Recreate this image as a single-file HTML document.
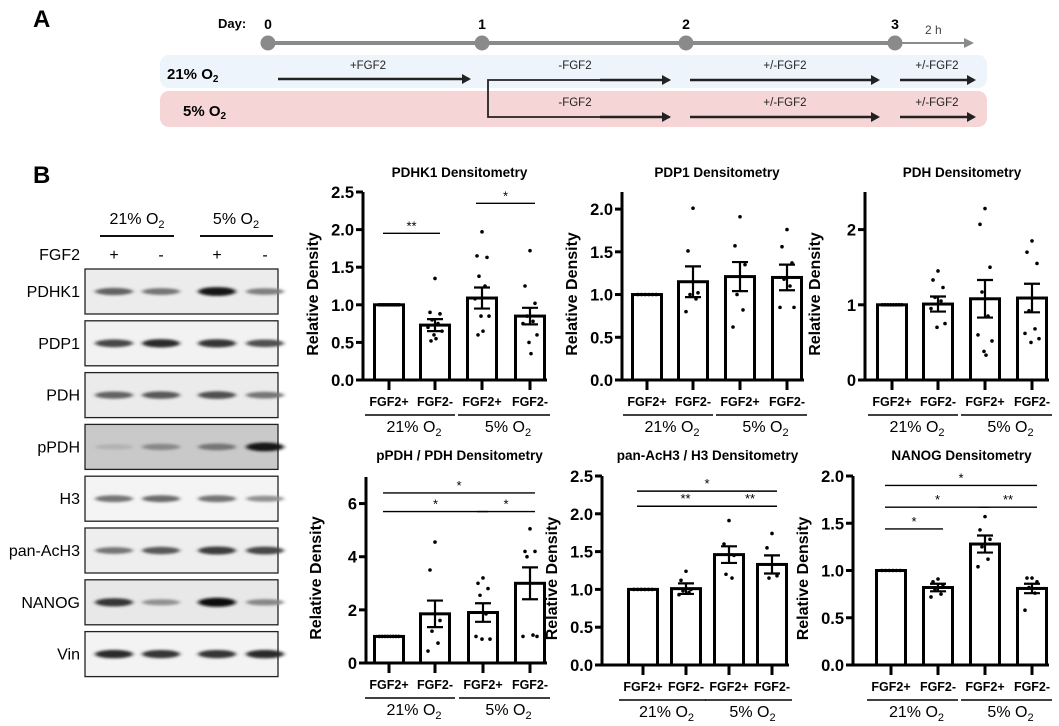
<!DOCTYPE html>
<html><head><meta charset="utf-8">
<style>
html,body{margin:0;padding:0;background:#fff;}
svg{display:block;font-family:"Liberation Sans",Arial,sans-serif;}
</style></head>
<body>
<svg id="fig" width="1059" height="726" viewBox="0 0 1059 726" xmlns="http://www.w3.org/2000/svg">
<defs>
<filter id="blur2" x="-50%" y="-200%" width="200%" height="500%"><feGaussianBlur stdDeviation="2 1.4"/></filter>
<marker id="ah" markerWidth="9" markerHeight="10" refX="7" refY="5" orient="auto" markerUnits="userSpaceOnUse"><path d="M0,0 L9,5 L0,10 z" fill="#222"/></marker>
<marker id="ahg" markerWidth="10" markerHeight="10" refX="8" refY="5" orient="auto" markerUnits="userSpaceOnUse"><path d="M0,0 L10,5 L0,10 z" fill="#8a8a8a"/></marker>
</defs>

<!-- Panel A -->
<text x="33" y="27" font-size="24" font-weight="bold">A</text>
<g>
<text x="218" y="28" font-size="13" font-weight="bold">Day:</text>
<line x1="268" y1="43" x2="895" y2="43" stroke="#8a8a8a" stroke-width="4"/>
<line x1="895" y1="43" x2="972" y2="43" stroke="#8a8a8a" stroke-width="2" marker-end="url(#ahg)"/>
<circle cx="268" cy="43" r="7.5" fill="#8a8a8a"/><circle cx="482" cy="43" r="7.5" fill="#8a8a8a"/>
<circle cx="686" cy="43" r="7.5" fill="#8a8a8a"/><circle cx="895" cy="43" r="7.5" fill="#8a8a8a"/>
<text x="268" y="29" font-size="14" font-weight="bold" text-anchor="middle">0</text>
<text x="482" y="29" font-size="14" font-weight="bold" text-anchor="middle">1</text>
<text x="686" y="29" font-size="14" font-weight="bold" text-anchor="middle">2</text>
<text x="895" y="29" font-size="14" font-weight="bold" text-anchor="middle">3</text>
<text x="925" y="34" font-size="12" fill="#444">2 h</text>
</g>
<rect x="160" y="55" width="827" height="33" rx="9" fill="#eef4fb"/>
<rect x="160" y="91" width="827" height="36" rx="9" fill="#f6d5d6"/>
<text x="167" y="79" font-size="15" font-weight="bold">21% O<tspan font-size="10" dy="3">2</tspan></text>
<text x="183" y="116" font-size="15" font-weight="bold">5% O<tspan font-size="10" dy="3">2</tspan></text>
<g stroke="#222" stroke-width="2.6" fill="none">
<line x1="278" y1="79" x2="469" y2="79" marker-end="url(#ah)"/>
<polyline points="670,80 488,80 488,117 670,117" stroke-width="1.8"/>
<line x1="600" y1="80" x2="669" y2="80" marker-end="url(#ah)"/>
<line x1="600" y1="117" x2="669" y2="117" marker-end="url(#ah)"/>
<line x1="690" y1="80" x2="878" y2="80" marker-end="url(#ah)"/>
<line x1="690" y1="117" x2="878" y2="117" marker-end="url(#ah)"/>
<line x1="900" y1="80" x2="974" y2="80" marker-end="url(#ah)"/>
<line x1="900" y1="117" x2="974" y2="117" marker-end="url(#ah)"/>
</g>
<g font-size="11.5" text-anchor="middle" fill="#222">
<text x="368" y="69">+FGF2</text><text x="575" y="69">-FGF2</text><text x="785" y="69">+/-FGF2</text><text x="937" y="69">+/-FGF2</text>
<text x="575" y="106">-FGF2</text><text x="785" y="106">+/-FGF2</text><text x="937" y="106">+/-FGF2</text>
</g>

<!-- Panel B blots -->
<text x="33" y="183" font-size="24" font-weight="bold">B</text>
<g font-size="16">
<text x="137" y="224" text-anchor="middle">21% O<tspan font-size="11" dy="4">2</tspan></text>
<line x1="100" y1="236" x2="174" y2="236" stroke="#111" stroke-width="2"/>
<text x="236" y="224" text-anchor="middle">5% O<tspan font-size="11" dy="4">2</tspan></text>
<line x1="200" y1="236" x2="273" y2="236" stroke="#111" stroke-width="2"/>
<text x="80" y="260" text-anchor="end">FGF2</text>
<text x="114" y="260" text-anchor="middle">+</text><text x="161" y="260" text-anchor="middle">-</text>
<text x="217" y="260" text-anchor="middle">+</text><text x="265" y="260" text-anchor="middle">-</text>
</g>
<g id="blots"></g>
<g id="charts"></g>
</svg>
<script>
const NS="http://www.w3.org/2000/svg";
function mk(tag,attrs,parent,text){const e=document.createElementNS(NS,tag);for(const k in attrs)e.setAttribute(k,attrs[k]);if(text!==undefined)e.textContent=text;parent.appendChild(e);return e;}

// Blots
const blotNames=["PDHK1","PDP1","PDH","pPDH","H3","pan-AcH3","NANOG","Vin"];
const blotIntensity=[[0.55,0.45,0.95,0.4],[0.7,0.85,0.8,0.65],[0.55,0.6,0.65,0.45],[0.12,0.35,0.45,0.95],[0.45,0.5,0.45,0.3],[0.45,0.6,0.75,0.7],[0.8,0.3,1.0,0.35],[0.85,0.8,0.8,0.85]];
const blotBg=["#ececec","#f2f2f2","#ebebeb","#c9c9c9","#f4f4f4","#eeeeee","#e8e8e8","#f3f3f3"];
const lanes=[114,161,217,265];
const blotG=document.getElementById('blots');
blotNames.forEach((n,i)=>{
  const y=269+i*51.8;
  const g=mk('g',{},blotG);
  
  
  mk('rect',{x:85,y:y,width:193,height:45,fill:blotBg[i],stroke:'#222','stroke-width':1.3},g);
  lanes.forEach((lx,j)=>{
    const v=blotIntensity[i][j];
    const c=Math.round(200-185*v);
    mk('ellipse',{cx:lx,cy:y+22.5,rx:19,ry:2.5+2*v,fill:`rgb(${c},${c},${c})`,filter:'url(#blur2)'},g);
  });
  const t=mk('text',{x:80,y:y+28,'font-size':16,'text-anchor':'end'},g,n);
  
  
});

// Chart data
const categories=["FGF2+","FGF2-","FGF2+","FGF2-"];
const groups=["21% O","5% O"];
const pdhk1Means=[1,0.73,1.09,0.85], pdhk1Sem=[0,0.08,0.14,0.11];
const pdhk1Pts=[[1,1,1,1,1,1,1,1,1,1],[1.35,0.9,0.88,0.8,0.75,0.7,0.65,0.6,0.55,0.52],[1.97,1.65,1.63,1.38,1.25,1.08,0.85,0.85,0.65,0.6],[1.72,1.25,1.02,0.85,0.78,0.75,0.6,0.5,0.35]];
const pdhk1Ticks=["0.0","0.5","1.0","1.5","2.0","2.5"];
const pdhk1Sig=[[0,1,1.95,"**"],[2,3,2.35,"*"]];
const pdp1Means=[1,1.15,1.21,1.2], pdp1Sem=[0,0.18,0.17,0.15];
const pdp1Pts=[[1,1,1,1,1,1],[2.01,1.51,1.02,1.0,0.95,0.8],[1.91,1.57,1.35,1.0,0.82,0.62],[1.76,1.56,1.37,1.18,1.1,0.85,0.85]];
const pdp1Ticks=["0.0","0.5","1.0","1.5","2.0"];
const pdhMeans=[1,1.01,1.08,1.09], pdhSem=[0,0.1,0.25,0.19];
const pdhPts=[[1,1,1,1,1,1,1,1],[1.45,1.33,1.23,1.1,1.05,0.95,0.75,0.7],[2.28,2.07,1.5,1.17,0.85,0.6,0.52,0.38,0.33],[1.85,1.7,1.55,0.92,0.68,0.62,0.55,0.5]];
const pdhTicks=["0","1","2"];
const ppdhMeans=[1,1.85,1.9,3.0], ppdhSem=[0,0.5,0.35,0.6];
const ppdhPts=[[1,1,1,1,1,1,1,1],[4.55,3.5,1.6,1.2,0.75,0.45],[3.2,3.0,2.8,2.55,1.85,1.0,0.9,0.9],[5.05,4.2,4.2,4.0,1.05,1.0,1.0]];
const ppdhTicks=["0","2","4","6"];
const ppdhSig=[[0,2,5.7,"*"],[2,3,5.7,"*"],[0,3,6.4,"*"]];
const acMeans=[1,1.01,1.46,1.33], acSem=[0,0.07,0.11,0.12];
const acPts=[[1,1,1,1,1,1],[1.24,1.12,1.0,0.98,0.96,0.93],[1.91,1.6,1.45,1.2,1.15],[1.74,1.55,1.18,1.15]];
const acTicks=["0.0","0.5","1.0","1.5","2.0","2.5"];
const acSig=[[0,2,2.1,"**"],[2,3,2.1,"**"],[0,3,2.3,"*"]];
const nanogMeans=[1,0.82,1.28,0.81], nanogSem=[0,0.04,0.09,0.05];
const nanogPts=[[1,1,1,1,1,1],[0.91,0.88,0.85,0.8,0.75,0.72],[1.57,1.43,1.33,1.25,1.12,1.04],[0.92,0.92,0.88,0.82,0.76,0.58]];
const nanogTicks=["0.0","0.5","1.0","1.5","2.0"];
const nanogSig=[[0,1,1.44,"*"],[0,2,1.67,"*"],[2,3,1.67,"**"],[0,3,1.9,"*"]];

const charts=[
 {name:"pdhk1",title:"PDHK1 Densitometry",ax:363,y0:380,yTop:192,ymax:2.5,ticks:pdhk1Ticks,means:pdhk1Means,sem:pdhk1Sem,pts:pdhk1Pts,sig:pdhk1Sig,bx:[389,435,482,530],tY:177},
 {name:"pdp1",title:"PDP1 Densitometry",ax:622,y0:380,yTop:192,ymax:2.2,ticks:pdp1Ticks,means:pdp1Means,sem:pdp1Sem,pts:pdp1Pts,sig:[],bx:[647,693,740,787],tY:177},
 {name:"pdh",title:"PDH Densitometry",ax:865,y0:380,yTop:192,ymax:2.5,ticks:pdhTicks,means:pdhMeans,sem:pdhSem,pts:pdhPts,sig:[],bx:[892,938,985,1032],tY:177},
 {name:"ppdh",title:"pPDH / PDH Densitometry",ax:366,y0:663,yTop:477,ymax:7,ticks:ppdhTicks,means:ppdhMeans,sem:ppdhSem,pts:ppdhPts,sig:ppdhSig,bx:[389,435,483,530],tY:460},
 {name:"pan-ach3",title:"pan-AcH3 / H3 Densitometry",ax:602,y0:665,yTop:476,ymax:2.5,ticks:acTicks,means:acMeans,sem:acSem,pts:acPts,sig:acSig,bx:[643,686,729,772],tY:460},
 {name:"nanog",title:"NANOG Densitometry",ax:853,y0:665,yTop:476,ymax:2.0,ticks:nanogTicks,means:nanogMeans,sem:nanogSem,pts:nanogPts,sig:nanogSig,bx:[891,938,985,1032],tY:460}
];
const jit=[0,-5,5,-3,3,-7,7,-1,1,-4,4];
const root=document.getElementById('charts');
charts.forEach(c=>{
  const g=mk('g',{},root);
  
  
  const Y=v=>c.y0-(v/c.ymax)*(c.y0-c.yTop);
  const xEnd=c.bx[3]+17;
  const mid=(c.bx[0]+c.bx[3])/2;
  const t=mk('text',{x:mid,y:c.tY,'font-size':13.5,'font-weight':'bold','text-anchor':'middle'},g,c.title);
  
  
  const yt=mk('text',{x:0,y:0,'font-size':16,'font-weight':'bold','text-anchor':'middle',transform:`translate(${c.ax-45},${(c.y0+c.yTop)/2+8}) rotate(-90)`},g,"Relative Density");
  
  
  c.means.forEach((m,i)=>{
    const b=mk('rect',{x:c.bx[i]-14.5,y:Y(m),width:29,height:c.y0-Y(m),fill:'#fff',stroke:'#000','stroke-width':3},g);
    
    
  });
  c.pts.forEach((arr,i)=>{
    arr.forEach((v,k)=>{
      const d=mk('circle',{cx:c.bx[i]+(i===0?(k-(arr.length-1)/2)*(22/arr.length):jit[k%jit.length]),cy:Y(v),r:1.8,fill:'#000'},g);
      
      
    });
  });
  c.means.forEach((m,i)=>{
    if(c.sem[i]<=0)return;
    const x=c.bx[i];
    const e=mk('path',{d:`M${x},${Y(m-c.sem[i])}V${Y(m+c.sem[i])}M${x-8},${Y(m+c.sem[i])}H${x+8}M${x-8},${Y(m-c.sem[i])}H${x+8}`,stroke:'#000','stroke-width':2.2,fill:'none'},g);
    
    
  });
  mk('line',{x1:c.ax,y1:c.yTop,x2:c.ax,y2:c.y0+1.5,stroke:'#000','stroke-width':3},g);
  mk('line',{x1:c.ax-7,y1:c.y0,x2:xEnd,y2:c.y0,stroke:'#000','stroke-width':3},g);
  c.ticks.forEach((tl,i)=>{
    const v=parseFloat(tl);
    mk('line',{x1:c.ax-7,y1:Y(v),x2:c.ax,y2:Y(v),stroke:'#000','stroke-width':3},g);
    const tt=mk('text',{x:c.ax-9,y:Y(v)+6,'font-size':16.5,'font-weight':'bold','text-anchor':'end'},g,tl);
    
    
  });
  const lb=c.y0+26;
  categories.forEach((cat,i)=>{
    mk('line',{x1:c.bx[i],y1:c.y0,x2:c.bx[i],y2:c.y0+10,stroke:'#000','stroke-width':3},g);
    const ct=mk('text',{x:c.bx[i],y:lb,'font-size':12.5,'font-weight':'bold','text-anchor':'middle'},g,cat);
    
    
  });
  groups.forEach((gr,k)=>{
    const x1=c.bx[2*k]-24,x2=c.bx[2*k+1]+20;
    mk('line',{x1:x1,y1:lb+9,x2:x2,y2:lb+9,stroke:'#000','stroke-width':1.5},g);
    const gt=mk('text',{x:(x1+x2)/2+4,y:lb+26,'font-size':16,'text-anchor':'middle'},g,gr);
    
    
    mk('tspan',{'font-size':11,dy:4},gt,"2");
  });
  c.sig.forEach(s=>{
    const x1=c.bx[s[0]]-6,x2=c.bx[s[1]]+5,y=Y(s[2]);
    const sl=mk('line',{x1:x1,y1:y,x2:x2,y2:y,stroke:'#000','stroke-width':1.4},g);
    
    
    mk('text',{x:(x1+x2)/2,y:y-3,'font-size':13,'text-anchor':'middle'},g,s[3]);
  });
});
</script>
</body></html>
